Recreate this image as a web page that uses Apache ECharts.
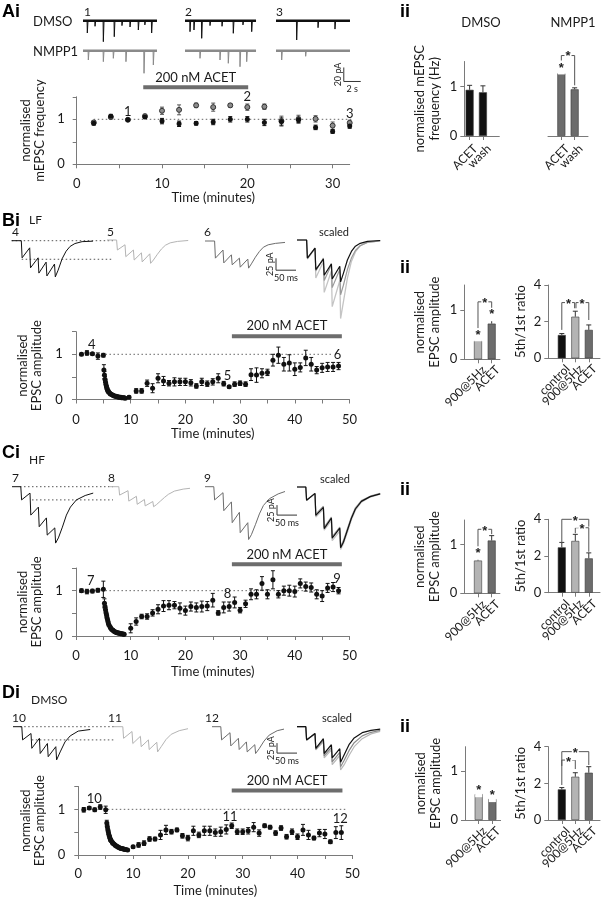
<!DOCTYPE html>
<html><head><meta charset="utf-8">
<script src="https://cdn.jsdelivr.net/npm/echarts@6.0.0/dist/echarts.min.js"></script>
<style>html,body{margin:0;padding:0;background:#fff}#c{width:603px;height:900px}</style>
</head><body><div id="c"></div>
<script>
// ================= DATA =================
// --- Ai: mEPSC frequency time course
const aTime = [2,4,6,8,10,12,14,16,18,20,22,24,26,28,30,32];
const aDmso = [0.91,1.07,0.99,1.05,0.96,0.90,0.91,0.94,1.00,1.00,0.93,0.95,0.99,0.82,0.73,0.85];
const aDmsoErr = [0.04,0.04,0.02,0.03,0.06,0.06,0.04,0.06,0.06,0.06,0.07,0.08,0.06,0.05,0.04,0.05];
const aNmpp = [0.93,1.05,0.99,1.07,1.19,1.21,1.31,1.27,1.31,1.27,1.28,0.96,1.00,1.01,0.86,0.92];
const aNmppErr = [0.04,0.04,0.02,0.04,0.08,0.11,0.05,0.09,0.04,0.07,0.06,0.11,0.09,0.07,0.08,0.06];
const aMarkX = [6,20,32], aMarkY = [1.17,1.49,1.12], aMarkTxt = ['1','2','3'];
const aAcet = [7.8,20.1,1.71];
const aRef = [2,32.5];
// Ai example mEPSC traces: [time s, amplitude pA] of events
const aTraceDur = [8.73,8.38,8.73];
const aSpDmso = [
  [[0.51,-17.6],[1.42,-8],[2.4,-30],[3.69,-22.9],[4.6,-7],[5.55,-9],[6.53,-13.3],[7.3,-6],[8.1,-17.6]],
  [[0.59,-15.7],[1.06,-13.3],[1.97,-25.2],[2.95,-7],[4.37,-8],[5.7,-18],[6.84,-6],[7.87,-15.7]],
  [[2.44,-27.6],[4.96,-10],[6.96,-12]]
];
const aSpNmpp = [
  [[0.63,-13.3],[2.4,-15.7],[3.58,-10.9],[5.07,-15.7],[7.2,-32.3],[8.3,-20.4]],
  [[1.77,-10.9],[4.13,-13.3],[5.11,-18],[6.49,-22.9],[7.28,-15.7]],
  [[0.67,-13.3],[3.5,-8]]
];
// --- Aii bars
const aiiCats = ['ACET','wash'];
const aiiDmso = [0.93,0.88], aiiDmsoErr = [0.09,0.13];
const aiiNmpp = [1.26,0.94], aiiNmppErr = [0.07,0.03];

// --- B (LF)
const bEarlyT = [1,2,3,4,5], bEarly = [1.0,1.03,1.01,0.96,0.98], bEarlyErr = [0.03,0.05,0.03,0.07,0.04];
const bDecayT = [5.1,5.2,5.3,5.4,5.5,5.6,5.7,5.8,5.9,6.0,6.2,6.3,6.5,6.7,6.8,7.0,7.2,7.3,7.5,7.7,7.8,8.0,8.2,8.3,8.5,8.7,8.8,9.0,9.7];
const bDecay = [0.65,0.54,0.45,0.38,0.32,0.27,0.23,0.20,0.18,0.16,0.14,0.12,0.11,0.10,0.09,0.08,0.07,0.07,0.06,0.06,0.05,0.05,0.05,0.04,0.04,0.04,0.04,0.03,0.05];
const bDecayErr = [0.12,0.08,0.06,0.05,0.04,0.04,0.03,0.03,0.03,0.02,0.02,0.02,0.02,0.02,0.02,0.02,0.02,0.02,0.02,0.02,0.02,0.02,0.02,0.02,0.02,0.02,0.02,0.02,0.03];
const bLateT = [11,12,13,14,15,16,17,18,19,20,21,22,23,24,25,26,27,28,29,30,31,32,33,34,35,36,37,38,39,40,41,42,43,44,45,46,47,48];
const bLate = [0.19,0.19,0.36,0.25,0.47,0.41,0.36,0.39,0.39,0.39,0.37,0.30,0.39,0.35,0.39,0.47,0.35,0.28,0.34,0.36,0.34,0.55,0.54,0.58,0.60,0.87,0.98,0.78,0.81,0.67,0.71,0.92,0.78,0.65,0.70,0.72,0.72,0.74];
const bLateErr = [0.05,0.05,0.07,0.1,0.1,0.1,0.06,0.09,0.08,0.08,0.07,0.05,0.08,0.06,0.07,0.1,0.05,0.03,0.05,0.05,0.05,0.13,0.16,0.1,0.07,0.13,0.18,0.15,0.18,0.14,0.1,0.17,0.15,0.08,0.1,0.1,0.1,0.08];
const bMarkX = [2.9,27.7,47.8], bMarkY = [1.21,0.52,0.99], bMarkTxt = ['4','5','6'];
const bAcet = [28.5,48.6,1.40];
const bRef = [1,47];
const ampCats = ['900@5Hz','ACET'];
const ratCats = ['control','900@5Hz','ACET'];
const bAmp = [0.37,0.72], bAmpErr = [0.09,0.16];
const bRat = [1.27,2.27,1.55], bRatErr = [0.08,0.3,0.27];
// example EPSC trains [ms, pA]
const trB4 = [[0,0],[24,0],[26,-36],[45,-15],[47,-57],[66,-36],[68,-68],[86,-45],[88,-74],[107,-49],[109,-76],[116,-62],[126,-38],[136,-22],[146,-12],[158,-6],[176,-2],[203,-1]];
const trB5 = [[0,0],[24,0],[26,-21],[45,-10],[47,-35],[66,-21],[68,-42],[86,-27],[88,-46],[107,-29],[109,-49],[116,-42],[126,-30],[136,-19],[146,-11],[158,-6],[176,-3],[203,-1]];
const trB6 = [[0,0],[24,0],[26,-36],[45,-19],[47,-46],[66,-29],[68,-50],[86,-36],[88,-55],[107,-38],[109,-57],[116,-48],[126,-34],[136,-22],[146,-13],[158,-8],[176,-5],[200,-3]];
const trBsK = [[0,0],[24,0],[26,-38],[45,-17],[47,-62],[66,-40],[68,-74],[86,-50],[88,-82],[107,-55],[109,-88],[116,-70],[126,-42],[136,-24],[146,-13],[158,-7],[176,-3],[208,-1]];
const trBsL = [[0,0],[24,0],[26,-40],[45,-18],[47,-80],[66,-45],[68,-110],[86,-65],[88,-140],[107,-85],[109,-165],[116,-130],[126,-80],[136,-45],[146,-25],[158,-12],[176,-5],[208,-2]];
const trBsG = [[0,0],[24,0],[26,-38],[45,-17],[47,-65],[66,-38],[68,-85],[86,-52],[88,-100],[107,-62],[109,-115],[116,-95],[126,-62],[136,-38],[146,-22],[158,-12],[176,-5],[208,-2]];
const bTraceRef = [0,-39];

// --- C (HF)
const cEarlyT = [1,2,3,4,5], cEarly = [1.0,0.98,0.99,1.01,1.03], cEarlyErr = [0.04,0.05,0.04,0.04,0.18];
const cDecayT = [5.2,5.3,5.4,5.5,5.6,5.7,5.8,5.9,6.0,6.2,6.3,6.5,6.7,6.8,7.0,7.2,7.3,7.5,7.7,7.8,8.0,8.2,8.3,8.5,8.7,8.8];
const cDecay = [0.72,0.65,0.58,0.51,0.45,0.39,0.34,0.29,0.25,0.21,0.18,0.15,0.13,0.12,0.10,0.09,0.08,0.07,0.07,0.06,0.06,0.05,0.05,0.05,0.04,0.04];
const cDecayErr = [0.1,0.07,0.05,0.04,0.04,0.03,0.03,0.03,0.02,0.02,0.02,0.02,0.02,0.02,0.02,0.02,0.02,0.02,0.02,0.02,0.02,0.02,0.02,0.02,0.02,0.02];
const cLateT = [10,11,12,13,14,15,16,17,18,19,20,21,22,23,24,25,26,27,28,29,30,31,32,33,34,35,36,37,38,39,40,41,42,43,44,45,46,47,48];
const cLate = [0.17,0.32,0.43,0.43,0.51,0.59,0.66,0.68,0.68,0.61,0.56,0.65,0.63,0.65,0.66,0.79,0.51,0.63,0.65,0.74,0.57,0.71,0.92,0.92,1.16,0.92,1.24,0.92,1.0,1.0,0.98,1.16,1.09,1.07,0.92,0.88,1.06,1.08,1.0];
const cLateErr = [0.1,0.08,0.05,0.06,0.07,0.1,0.12,0.1,0.08,0.12,0.1,0.1,0.1,0.12,0.1,0.15,0.05,0.12,0.1,0.12,0.06,0.08,0.12,0.1,0.15,0.1,0.2,0.08,0.1,0.12,0.12,0.1,0.1,0.1,0.1,0.12,0.1,0.1,0.07];
const cMarkX = [2.7,27.7,47.7], cMarkY = [1.21,0.92,1.26], cMarkTxt = ['7','8','9'];
const cAcet = [28.5,48.6,1.58];
const cRef = [1,47];
const cAmp = [0.67,1.08], cAmpErr = [0.12,0.1];
const cRat = [2.47,2.82,1.87], cRatErr = [0.27,0.36,0.3];
const trC7 = [[0,0],[22,0],[24,-33],[45,-16],[47,-71],[66,-51],[68,-100],[86,-78],[88,-121],[107,-103],[109,-141],[116,-128],[126,-101],[136,-71],[146,-51],[161,-33],[183,-22],[203,-16]];
const trC8 = [[0,0],[22,0],[24,-21],[45,-10],[47,-36],[66,-24],[68,-44],[86,-32],[88,-48],[107,-37],[109,-50],[116,-45],[126,-36],[136,-27],[146,-19],[161,-11],[183,-6],[200,-4]];
const trC9 = [[0,0],[22,0],[24,-33],[45,-15],[47,-60],[66,-38],[68,-90],[86,-64],[88,-115],[107,-90],[109,-132],[116,-120],[126,-95],[136,-68],[146,-47],[161,-30],[183,-18],[200,-12]];
const trCsK = [[0,0],[22,0],[24,-33],[45,-16],[47,-71],[66,-51],[68,-104],[86,-78],[88,-128],[107,-103],[109,-152],[116,-138],[126,-108],[136,-78],[146,-55],[161,-36],[183,-24],[208,-17]];
const trCsL = [[0,0],[22,0],[24,-33],[45,-17],[47,-75],[66,-55],[68,-108],[86,-84],[88,-134],[107,-110],[109,-156],[116,-142],[126,-113],[136,-82],[146,-58],[161,-38],[183,-25],[208,-18]];
const trCsG = [[0,0],[22,0],[24,-33],[45,-16],[47,-68],[66,-48],[68,-100],[86,-75],[88,-124],[107,-100],[109,-148],[116,-134],[126,-104],[136,-75],[146,-52],[161,-34],[183,-23],[208,-16]];
const cTraceRef = [0,-33];

// --- D (DMSO)
const dEarlyT = [1,2,3,4,5], dEarly = [0.99,1.03,0.99,1.05,0.99], dEarlyErr = [0.05,0.03,0.04,0.05,0.08];
const dDecayT = [5.2,5.3,5.4,5.5,5.6,5.7,5.8,5.9,6.0,6.2,6.3,6.5,6.7,6.8,7.0,7.2,7.3,7.5,7.7,7.8,8.0,8.2,8.3,8.5,8.7,9.0];
const dDecay = [0.70,0.62,0.55,0.49,0.44,0.40,0.36,0.33,0.31,0.28,0.26,0.24,0.22,0.21,0.19,0.18,0.17,0.16,0.15,0.14,0.14,0.13,0.13,0.12,0.12,0.11];
const dDecayErr = [0.06,0.05,0.04,0.04,0.03,0.03,0.03,0.03,0.02,0.02,0.02,0.02,0.02,0.02,0.02,0.02,0.02,0.02,0.02,0.02,0.02,0.02,0.02,0.02,0.02,0.02];
const dLateT = [10,11,12,13,14,15,16,17,18,19,20,21,22,23,24,25,26,27,28,29,30,31,32,33,34,35,36,37,38,39,40,41,42,43,44,45,46,47,48];
const dLate = [0.18,0.22,0.26,0.35,0.35,0.44,0.55,0.51,0.55,0.42,0.37,0.53,0.44,0.53,0.53,0.49,0.51,0.56,0.64,0.51,0.51,0.53,0.61,0.48,0.64,0.61,0.48,0.59,0.40,0.51,0.40,0.55,0.44,0.37,0.48,0.46,0.29,0.49,0.49];
const dLateErr = [0.03,0.05,0.05,0.05,0.04,0.1,0.1,0.05,0.04,0.05,0.06,0.1,0.06,0.1,0.1,0.08,0.1,0.1,0.06,0.06,0.06,0.07,0.1,0.07,0.04,0.04,0.05,0.05,0.05,0.06,0.06,0.12,0.1,0.04,0.08,0.1,0.04,0.13,0.15];
const dMarkX = [2.9,27.7,47.8], dMarkY = [1.23,0.84,0.79], dMarkTxt = ['10','11','12'];
const dAcet = [28.0,48.2,1.41];
const dRef = [1,49];
const dAmp = [0.53,0.43], dAmpErr = [0.03,0.06];
const dRat = [1.67,2.36,2.58], dRatErr = [0.1,0.22,0.33];
const trD10 = [[0,0],[22,0],[24,-33],[45,-17],[47,-54],[66,-29],[68,-67],[86,-42],[88,-75],[107,-50],[109,-83],[118,-63],[130,-38],[143,-23],[163,-11],[193,-7]];
const trD11 = [[0,0],[22,0],[24,-29],[45,-12],[47,-42],[66,-24],[68,-50],[86,-33],[88,-57],[107,-39],[109,-63],[118,-50],[130,-32],[143,-19],[163,-10],[185,-5]];
const trD12 = [[0,0],[22,0],[24,-33],[45,-15],[47,-48],[66,-29],[68,-57],[86,-38],[88,-63],[107,-45],[109,-67],[118,-55],[130,-36],[143,-21],[163,-10],[180,-6]];
const trDsK = [[0,0],[22,0],[24,-33],[45,-17],[47,-54],[66,-30],[68,-67],[86,-45],[88,-78],[107,-55],[109,-89],[118,-70],[130,-45],[143,-28],[163,-15],[185,-9],[208,-6]];
const trDsL = [[0,0],[22,0],[24,-33],[45,-18],[47,-58],[66,-38],[68,-78],[86,-58],[88,-95],[107,-72],[109,-108],[118,-95],[130,-72],[143,-50],[163,-30],[185,-18],[208,-12]];
const trDsG = [[0,0],[22,0],[24,-33],[45,-17],[47,-56],[66,-34],[68,-73],[86,-52],[88,-88],[107,-64],[109,-100],[118,-84],[130,-60],[143,-40],[163,-23],[185,-14],[208,-9]];
const dTraceRef = [0,-33];

// significance annotations: brackets [x1,x2,yTop,yLeftEnd,yRightEnd], stars [x,y]
const aiiSigBr = [[1,2,1.62,1.52,1.02]], aiiSigSt = [[1,1.41],[1.5,1.64]];
const bAmpBr = [[1,2,1.16,0.63,1.04]], bAmpSt = [[1,0.53],[2,0.94],[1.5,1.16]];
const bRatBr = [[1,1.95,3.04,1.55,2.73],[2.05,3,3.04,2.73,2.09]], bRatSt = [[1.5,3.04],[2.5,3.04]];
const cAmpBr = [[1,2,1.31,0.96,1.21]], cAmpSt = [[1,0.86],[1.5,1.31]];
const cRatBr = [[1,3,4.0,2.69,3.6],[2,3,3.54,3.24,2.23]], cRatSt = [[2,4.0],[2.5,3.54]];
const dAmpBr = [], dAmpSt = [[1,0.64],[2,0.54]];
const dRatBr = [[1,3,3.73,1.91,3.0],[1,2,3.27,2.95,2.78]], dRatSt = [[2,3.73],[1.5,3.27]];

// ================= BUILD =================
const FONT = 'Lato, "Open Sans", sans-serif';
const BFONT = '"Liberation Sans", Arial, sans-serif';
const AX = '#7a7a7a', TX = '#1a1a1a';
const K = '#111111', LG = '#b4b4b4', DG = '#6c6c6c';
const grids = [], xAxes = [], yAxes = [], series = [], gfx = [];
function ts(size){ return {fontSize:size, fontFamily:FONT, color:TX}; }
function addGrid(rect, xa, ya){
  const i = grids.length;
  grids.push(Object.assign({containLabel:false, outerBoundsMode:'none', show:false}, rect));
  xAxes.push(Object.assign({gridIndex:i}, xa));
  yAxes.push(Object.assign({gridIndex:i}, ya));
  return i;
}
function zip(t, v, e){ return t.map((x,i)=>[x, v[i], e ? e[i] : 0]); }

function timePlot(rect, xmax, xTicks, xLabs, xOff, yOff, xNameGap, yName, yNameGap){
  return addGrid(rect,
    {type:'value', min:0, max:xmax, offset:xOff, splitLine:{show:false},
     axisLine:{show:true, lineStyle:{color:AX}}, axisTick:{show:true, customValues:xTicks, length:4, lineStyle:{color:AX}},
     axisLabel:{show:true, customValues:xLabs, margin:8, hideOverlap:false, ...ts(13)},
     name:'Time (minutes)', nameLocation:'middle', nameGap:xNameGap, nameTextStyle:ts(13)},
    {type:'value', min:0, max:1.5, offset:yOff, splitLine:{show:false},
     axisLine:{show:true, lineStyle:{color:AX}}, axisTick:{show:true, customValues:[0,0.5,1,1.5], length:4, lineStyle:{color:AX}},
     axisLabel:{show:true, customValues:[0,1], margin:8, ...ts(13)},
     name:yName, nameLocation:'middle', nameGap:yNameGap, nameTextStyle:Object.assign(ts(13),{lineHeight:14})});
}
// bar chart: category labels drawn as rotated text at tick positions (value axis keeps exact bar spacing)
function barPlot(rect, xmin, xmax, cats, ymax, yTicks, yName, yNameGap, xOff, showY){
  const pos = cats.map((c,i)=>i+1);
  const g = addGrid(rect,
    {type:'value', min:xmin, max:xmax, offset:xOff, splitLine:{show:false},
     axisLine:{show:true, lineStyle:{color:AX}}, axisTick:{show:true, customValues:pos, length:4, lineStyle:{color:AX}},
     axisLabel:{show:false}},
    {type:'value', min:0, max:ymax, splitLine:{show:false}, show:showY,
     axisLine:{show:true, lineStyle:{color:AX}}, axisTick:{show:true, customValues:yTicks, length:4, lineStyle:{color:AX}},
     axisLabel:{show:true, customValues:yTicks, margin:7, ...ts(13)},
     name:yName, nameLocation:'middle', nameGap:yNameGap, nameTextStyle:Object.assign(ts(13),{lineHeight:15})});
  series.push({type:'custom', xAxisIndex:g, yAxisIndex:g, data:pos.map(p=>[p,0]), silent:true, clip:false, z:5,
    renderItem:(p,api)=>{ const c=api.coord([api.value(0), 0]);
      return {type:'text', x:c[0]+6, y:c[1]+xOff+6, rotation:Math.PI/4,
        style:{text:cats[Math.round(api.value(0))-1], fontSize:12, fontFamily:FONT, fill:TX, align:'right', verticalAlign:'middle', textAlign:'right', textVerticalAlign:'middle'}}; }});
  return g;
}
function errSeries(g, pts, color, both, cap){
  series.push({type:'custom', xAxisIndex:g, yAxisIndex:g, data:pts, silent:true, z:3, clip:false,
    renderItem:(p,api)=>{
      const x=api.value(0), y=api.value(1), e=api.value(2);
      const t=api.coord([x,y+e]), b=api.coord([x, both ? y-e : y]);
      const st={stroke:color, lineWidth:1};
      const ch=[{type:'line', shape:{x1:t[0],y1:t[1],x2:b[0],y2:b[1]}, style:st},
                {type:'line', shape:{x1:t[0]-cap,y1:t[1],x2:t[0]+cap,y2:t[1]}, style:st}];
      if(both) ch.push({type:'line', shape:{x1:b[0]-cap,y1:b[1],x2:b[0]+cap,y2:b[1]}, style:st});
      return {type:'group', children:ch};
    }});
}
function scatterSeries(g, pts, color, border, size){
  series.push({type:'scatter', xAxisIndex:g, yAxisIndex:g, data:pts.map(p=>[p[0],p[1]]), symbol:'circle', symbolSize:size,
    itemStyle:{color:color, borderColor:border||color, borderWidth:border?1:0, opacity:1}, silent:true, z:4, clip:false});
}
function textSeries(g, xs, ys, txts, size){
  series.push({type:'custom', xAxisIndex:g, yAxisIndex:g, data:xs.map((x,i)=>[x, ys[i], i]), silent:true, z:5, clip:false,
    renderItem:(p,api)=>{ const c=api.coord([api.value(0), api.value(1)]);
      return {type:'text', x:c[0], y:c[1], style:{text:txts[api.value(2)], fontSize:size, fontFamily:FONT, fill:TX, align:'center', verticalAlign:'middle', textAlign:'center', textVerticalAlign:'middle'}}; }});
}
function refLine(g, xr, y){
  series.push({type:'line', xAxisIndex:g, yAxisIndex:g, data:[[xr[0],y],[xr[1],y]], symbol:'none', silent:true, z:1, clip:false,
    lineStyle:{color:'#666', width:1, type:[1.5,2.5]}});
}
function acetSeries(g, d){
  series.push({type:'custom', xAxisIndex:g, yAxisIndex:g, data:[d], silent:true, z:5, clip:false,
    renderItem:(p,api)=>{ const a=api.coord([api.value(0), api.value(2)]), b=api.coord([api.value(1), api.value(2)]);
      return {type:'group', children:[
        {type:'rect', shape:{x:a[0], y:a[1]-2, width:b[0]-a[0], height:4}, style:{fill:'#6d6d6d'}},
        {type:'text', x:(a[0]+b[0])/2, y:a[1]-10, style:{text:'200 nM ACET', fontSize:13, fontFamily:FONT, fill:TX, align:'center', verticalAlign:'middle', textAlign:'center', textVerticalAlign:'middle'}}]}; }});
}
function barSeries(g, vals, colors){
  series.push({type:'bar', xAxisIndex:g, yAxisIndex:g, barWidth:8, silent:true, z:2,
    data: vals.map((v,i)=>({value:[i+1, v], itemStyle:{color:colors[i], borderColor:'#3a3a3a', borderWidth:0.6}}))});
}
function sigSeries(g, brs, sts){
  if(brs.length) series.push({type:'custom', xAxisIndex:g, yAxisIndex:g, data:brs, silent:true, z:5, clip:false,
    renderItem:(p,api)=>{ const x1=api.value(0), x2=api.value(1), yt=api.value(2);
      const l=api.coord([x1, api.value(3)]), a=api.coord([x1,yt]), b=api.coord([x2,yt]), r=api.coord([x2, api.value(4)]);
      return {type:'polyline', shape:{points:[l,a,b,r]}, style:{stroke:'#555', lineWidth:1, fill:null}}; }});
  series.push({type:'custom', xAxisIndex:g, yAxisIndex:g, data:sts, silent:true, z:6, clip:false,
    renderItem:(p,api)=>{ const c=api.coord([api.value(0), api.value(1)]);
      return {type:'text', x:c[0], y:c[1]+2, style:{text:'*', fontSize:13, fontFamily:BFONT, fontWeight:'bold', fill:'#222', backgroundColor:'#fff', padding:[0,1], align:'center', verticalAlign:'middle', textAlign:'center', textVerticalAlign:'middle'}}; }});
}
function traceGrid(left, base, w, h, above, msPerPx, pAPerPx){
  return addGrid({left:left, top:base-above, width:w, height:h},
    {type:'value', min:0, max:w*msPerPx, show:false, splitLine:{show:false}},
    {type:'value', min:-(h-above)*pAPerPx, max:above*pAPerPx, show:false, splitLine:{show:false}});
}
function lineSeries(g, data, color, width, dashed, z){
  series.push({type:'line', xAxisIndex:g, yAxisIndex:g, data:data, symbol:'none', showSymbol:false, silent:true, clip:false, z:z||2,
    lineStyle:{color:color, width:width, type: dashed ? [1.5,2.5] : 'solid'}});
}
function scaleBar(g, t0, i0, dt, di, tl, il){
  series.push({type:'custom', xAxisIndex:g, yAxisIndex:g, data:[[t0,i0,dt,di]], silent:true, clip:false, z:5,
    renderItem:(p,api)=>{ const t=api.value(0), i=api.value(1);
      const a=api.coord([t,i]), b=api.coord([t,i-api.value(3)]), c=api.coord([t+api.value(2), i-api.value(3)]);
      return {type:'group', children:[
        {type:'polyline', shape:{points:[a,b,c]}, style:{stroke:'#333', lineWidth:1, fill:null}},
        {type:'text', x:a[0]-6, y:(a[1]+b[1])/2, rotation:Math.PI/2, style:{text:il, fontSize:9, fontFamily:FONT, fill:TX, align:'center', verticalAlign:'middle', textAlign:'center', textVerticalAlign:'middle'}},
        {type:'text', x:(b[0]+c[0])/2, y:b[1]+8, style:{text:tl, fontSize:9, fontFamily:FONT, fill:TX, align:'center', verticalAlign:'middle', textAlign:'center', textVerticalAlign:'middle'}}]}; }});
}
function spikeTrace(dur, spikes){
  const d=[[0,0]];
  spikes.forEach(s=>{ d.push([s[0]-0.03,0],[s[0],s[1]],[s[0]+0.08,0]); });
  d.push([dur,0]);
  return d;
}
function T(text, x, y, size, opt){
  gfx.push({type:'text', x:x, y:y, silent:true, style:Object.assign({text:text, fontSize:size, fontFamily:FONT, fill:TX, align:'left', verticalAlign:'middle', textAlign:'left', textVerticalAlign:'middle'}, opt||{})});
}
function TB(text, x, y){ T(text, x, y, 18, {fontFamily:BFONT, fontWeight:'bold', fill:'#000'}); }
function TC(text, x, y, size){ T(text, x, y, size, {align:'center', textAlign:'center'}); }

// ---------- Panel A ----------
TB('Ai', 2, 12); TB('ii', 400, 12);
T('DMSO', 33, 21.7, 13); T('NMPP1', 33, 51.7, 13);
T('1', 84, 12, 12); T('2', 185, 12, 12); T('3', 276, 12, 12);
TC('DMSO', 481, 23, 13); TC('NMPP1', 573, 23, 13);
const aStarts = [83,185,276];
aStarts.forEach((L,k)=>{
  const gd = traceGrid(L, 20.7, 80, 40, 5, 0.118, 1.43);
  lineSeries(gd, [[0,0],[aTraceDur[k],0]], K, 2.6);
  lineSeries(gd, spikeTrace(aTraceDur[k], aSpDmso[k]), K, 1);
  const gn = traceGrid(L, 50.7, 80, 40, 5, 0.118, 1.43);
  lineSeries(gn, [[0,0],[aTraceDur[k],0]], '#8a8a8a', 2.6);
  lineSeries(gn, spikeTrace(aTraceDur[k], aSpNmpp[k]), '#8a8a8a', 1);
  if(k===2) scaleBar(gn, 8.0, -24, 2, 20, '2 s', '20 pA');
});
const gA = timePlot({left:76.7, top:96.8, width:273, height:67.5}, 32, [0,5,10,15,20,25,30], [0,10,20,30], 5, 4, 21, 'normalised\nmEPSC frequency', 26);
refLine(gA, aRef, 1);
errSeries(gA, zip(aTime, aNmpp, aNmppErr), '#555', true, 2);
errSeries(gA, zip(aTime, aDmso, aDmsoErr), K, true, 2);
scatterSeries(gA, zip(aTime, aNmpp), '#8c8c8c', '#333', 5);
scatterSeries(gA, zip(aTime, aDmso), K, null, 5);
textSeries(gA, aMarkX, aMarkY, aMarkTxt, 13);
acetSeries(gA, aAcet);
const gA1 = barPlot({left:464.3, top:61.5, width:35, height:74.5}, 0.6, 3.23, aiiCats, 1.5, [0,1], 'normalised mEPSC\nfrequency (Hz)', 22, 4.7, true);
barSeries(gA1, aiiDmso, [K,K]);
errSeries(gA1, zip([1,2], aiiDmso, aiiDmsoErr), '#333', false, 2.5);
const gA2 = barPlot({left:548, top:61.5, width:40, height:74.5}, 0, 3, aiiCats, 1.5, [0,1], '', 20, 4.7, false);
barSeries(gA2, aiiNmpp, [DG,DG]);
errSeries(gA2, zip([1,2], aiiNmpp, aiiNmppErr), '#333', false, 2.5);
sigSeries(gA2, aiiSigBr, aiiSigSt);

// ---------- Panel B ----------
TB('Bi', 2, 221); T('LF', 29, 220, 12); TB('ii', 400, 268);
T('4', 12, 232, 12); T('5', 107, 232, 12); T('6', 204, 232, 12); TC('scaled', 334, 232, 11);
const gB4 = traceGrid(11.7, 240.7, 100, 100, 10, 2.5, 2.1);
lineSeries(gB4, [[0,bTraceRef[0]],[503,bTraceRef[0]]], '#555', 1, true, 1);
lineSeries(gB4, [[25,bTraceRef[1]],[503,bTraceRef[1]]], '#555', 1, true, 1);
lineSeries(gB4, trB4, K, 1);
lineSeries(traceGrid(107, 240, 100, 100, 10, 2.5, 2.1), trB5, LG, 1);
const gB6 = traceGrid(205, 241, 100, 100, 10, 2.5, 2.1);
lineSeries(gB6, trB6, DG, 1);
scaleBar(gB6, 177.5, -36.3, 50, 25, '50 ms', '25 pA');
const gBs = traceGrid(297, 240, 100, 100, 10, 2.5, 2.1);
lineSeries(gBs, trBsL, '#c4c4c4', 1.3); lineSeries(gBs, trBsG, '#9a9a9a', 1.2); lineSeries(gBs, trBsK, K, 1.2);
const gB = timePlot({left:76, top:331.7, width:273.5, height:67.8}, 50, [0,5,10,15,20,25,30,35,40,45,50], [0,10,20,30,40,50], 5.5, 5.3, 22, 'normalised\nEPSC amplitude', 27);
refLine(gB, bRef, 1);
const bPts = zip(bEarlyT, bEarly, bEarlyErr).concat(zip(bDecayT, bDecay, bDecayErr), zip(bLateT, bLate, bLateErr));
errSeries(gB, bPts, K, true, 2);
scatterSeries(gB, bPts, K, null, 5);
textSeries(gB, bMarkX, bMarkY, bMarkTxt, 13);
acetSeries(gB, bAcet);
const gB1 = barPlot({left:464.3, top:285, width:35.6, height:74.3}, 0, 2.6, ampCats, 1.5, [0,1], 'normalised\nEPSC amplitude', 22, 2.5, true);
barSeries(gB1, bAmp, [LG, DG]);
errSeries(gB1, zip([1,2], bAmp, bAmpErr), '#333', false, 2.5);
sigSeries(gB1, bAmpBr, bAmpSt);
const gB2 = barPlot({left:548.3, top:285, width:51.7, height:73.3}, 0, 3.83, ratCats, 4, [0,2,4], '5th/1st ratio', 20, 2.5, true);
barSeries(gB2, bRat, [K, LG, DG]);
errSeries(gB2, zip([1,2,3], bRat, bRatErr), '#333', false, 2.5);
sigSeries(gB2, bRatBr, bRatSt);

// ---------- Panel C ----------
TB('Ci', 2, 453); T('HF', 29, 460, 12); TB('ii', 400, 490);
T('7', 12, 478, 12); T('8', 108, 478, 12); T('9', 204, 478, 12); TC('scaled', 335, 479, 11);
const gC7 = traceGrid(12, 486.7, 100, 100, 10, 2.5, 2.5);
lineSeries(gC7, [[20,cTraceRef[0]],[502,cTraceRef[0]]], '#555', 1, true, 1);
lineSeries(gC7, [[50,cTraceRef[1]],[502,cTraceRef[1]]], '#555', 1, true, 1);
lineSeries(gC7, trC7, K, 1);
lineSeries(traceGrid(110, 486.7, 100, 100, 10, 2.5, 2.5), trC8, LG, 1);
const gC9 = traceGrid(205, 486.7, 100, 100, 10, 2.5, 2.5);
lineSeries(gC9, trC9, DG, 1);
scaleBar(gC9, 180, -46, 50, 25, '50 ms', '25 pA');
const gCs = traceGrid(297, 487, 100, 100, 10, 2.5, 2.5);
lineSeries(gCs, trCsL, '#c4c4c4', 1.3); lineSeries(gCs, trCsG, '#9a9a9a', 1.2); lineSeries(gCs, trCsK, K, 1.2);
const gC = timePlot({left:76, top:568, width:273.5, height:68}, 50, [0,5,10,15,20,25,30,35,40,45,50], [0,10,20,30,40,50], 5.7, 5.3, 24, 'normalised\nEPSC amplitude', 27);
refLine(gC, cRef, 1);
const cPts = zip(cEarlyT, cEarly, cEarlyErr).concat(zip(cDecayT, cDecay, cDecayErr), zip(cLateT, cLate, cLateErr));
errSeries(gC, cPts, K, true, 2);
scatterSeries(gC, cPts, K, null, 5);
textSeries(gC, cMarkX, cMarkY, cMarkTxt, 13);
acetSeries(gC, cAcet);
const gC1 = barPlot({left:464.3, top:520, width:35.6, height:73.3}, 0, 2.6, ampCats, 1.5, [0,1], 'normalised\nEPSC amplitude', 22, 3, true);
barSeries(gC1, cAmp, [LG, DG]);
errSeries(gC1, zip([1,2], cAmp, cAmpErr), '#333', false, 2.5);
sigSeries(gC1, cAmpBr, cAmpSt);
const gC2 = barPlot({left:548.3, top:519.3, width:51.7, height:73.4}, 0, 3.83, ratCats, 4, [0,2,4], '5th/1st ratio', 20, 3, true);
barSeries(gC2, cRat, [K, LG, DG]);
errSeries(gC2, zip([1,2,3], cRat, cRatErr), '#333', false, 2.5);
sigSeries(gC2, cRatBr, cRatSt);

// ---------- Panel D ----------
TB('Di', 2, 693); T('DMSO', 31, 700, 12); TB('ii', 400, 727);
T('10', 12, 718, 12); T('11', 108, 718, 12); T('12', 205, 718, 12); TC('scaled', 337, 718, 11);
const gD10 = traceGrid(13, 726.7, 100, 100, 10, 2.5, 2.5);
lineSeries(gD10, [[18,dTraceRef[0]],[500,dTraceRef[0]]], '#555', 1, true, 1);
lineSeries(gD10, [[47,dTraceRef[1]],[500,dTraceRef[1]]], '#555', 1, true, 1);
lineSeries(gD10, trD10, K, 1);
lineSeries(traceGrid(114, 726.7, 100, 100, 10, 2.5, 2.5), trD11, LG, 1);
const gD12 = traceGrid(212, 726.7, 100, 100, 10, 2.5, 2.5);
lineSeries(gD12, trD12, DG, 1);
scaleBar(gD12, 162.5, -41, 50, 25, '50 ms', '25 pA');
const gDs = traceGrid(297, 726.7, 100, 100, 10, 2.5, 2.5);
lineSeries(gDs, trDsL, '#b8b8b8', 1.2); lineSeries(gDs, trDsG, '#8a8a8a', 1.2); lineSeries(gDs, trDsK, K, 1.2);
const gD = timePlot({left:78.3, top:786.5, width:274, height:68.5}, 50, [0,5,10,15,20,25,30,35,40,45,50], [0,10,20,30,40,50], 4.3, 5, 25, 'normalised\nEPSC amplitude', 26);
refLine(gD, dRef, 1);
const dPts = zip(dEarlyT, dEarly, dEarlyErr).concat(zip(dDecayT, dDecay, dDecayErr), zip(dLateT, dLate, dLateErr));
errSeries(gD, dPts, K, true, 2);
scatterSeries(gD, dPts, K, null, 5);
textSeries(gD, dMarkX, dMarkY, dMarkTxt, 13);
acetSeries(gD, dAcet);
const gD1 = barPlot({left:465, top:746.7, width:35.6, height:73.3}, 0, 2.6, ampCats, 1.5, [0,1], 'normalised\nEPSC amplitude', 22, 3, true);
barSeries(gD1, dAmp, [LG, DG]);
errSeries(gD1, zip([1,2], dAmp, dAmpErr), '#333', false, 2.5);
sigSeries(gD1, dAmpBr, dAmpSt);
const gD2 = barPlot({left:548.3, top:746.7, width:51.7, height:73.3}, 0, 3.83, ratCats, 4, [0,2,4], '5th/1st ratio', 20, 3, true);
barSeries(gD2, dRat, [K, LG, DG]);
errSeries(gD2, zip([1,2,3], dRat, dRatErr), '#333', false, 2.5);
sigSeries(gD2, dRatBr, dRatSt);

const chart = echarts.init(document.getElementById('c'), null, {renderer:'canvas'});
chart.setOption({animation:false, backgroundColor:'#fff', tooltip:{show:false},
  grid:grids, xAxis:xAxes, yAxis:yAxes, series:series, graphic:{elements:gfx}});
</script></body></html>
